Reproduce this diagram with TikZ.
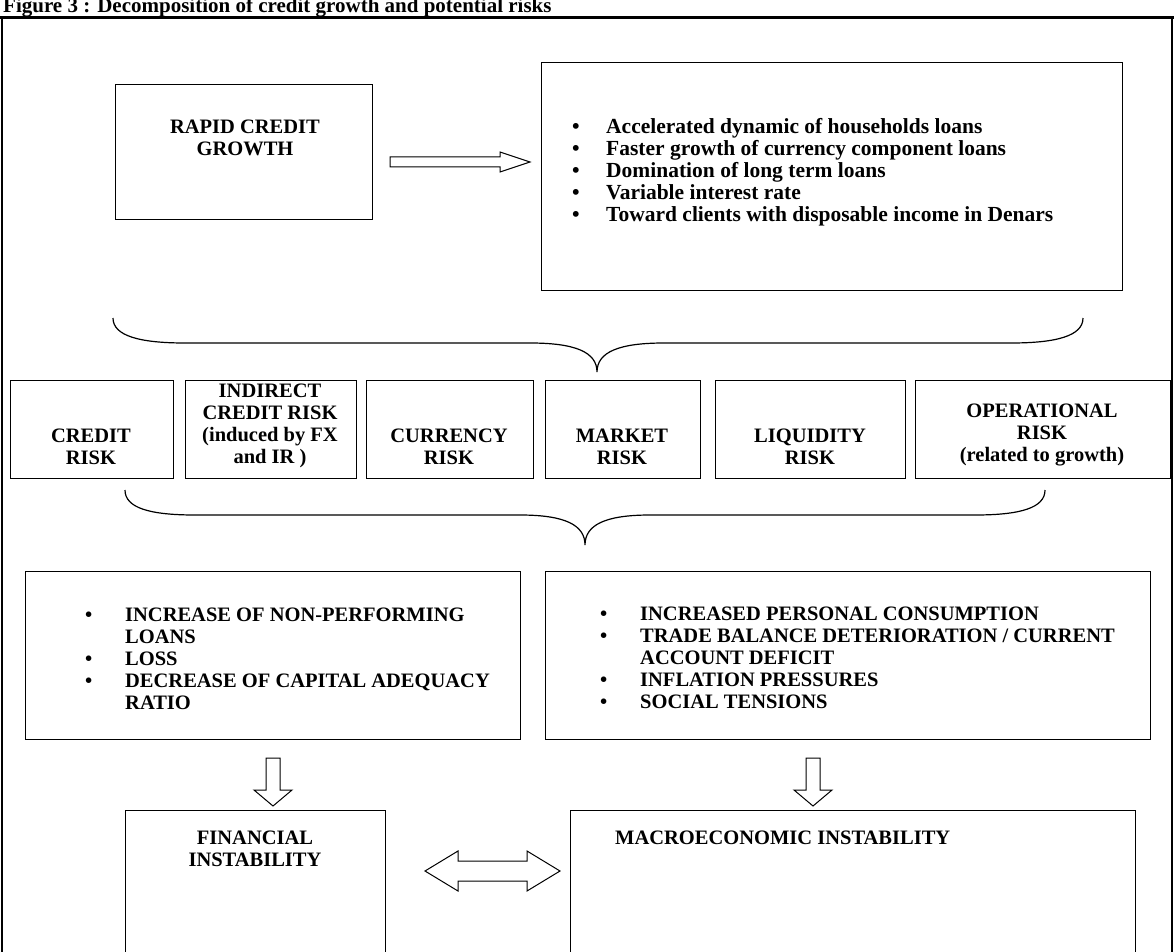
\documentclass[tikz,border=0pt]{standalone}
\usepackage{fontspec}
\setmainfont{Liberation Serif}
\begin{document}
\begin{tikzpicture}[x=1pt,y=-1pt,
  box/.style={draw,line width=1.4pt,anchor=north west,inner sep=0pt},
  txt/.style={font=\bfseries\fontsize{20.5}{22}\selectfont,align=center,inner sep=0pt},
  blist/.style={font=\bfseries\fontsize{20.5}{22}\selectfont,align=left,inner sep=0pt,anchor=north west},
  blk/.style={draw,line width=1pt,fill=white,line join=miter},
  brace/.style={draw,line width=1.2pt}]
\useasboundingbox (0,0) rectangle (1174,952);
% title and frame
\node[font=\bfseries\fontsize{21}{22}\selectfont,anchor=base west,inner sep=0pt] (title) at (3,13) {Figure 3 : Decomposition of credit growth and potential risks};
\draw[line width=3pt] (0,18) -- (1174,18);
\draw[line width=1.5pt] (2,18) -- (2,952);
\draw[line width=1.5pt] (1172,18) -- (1172,952);
% top
\node[box,minimum width=257pt,minimum height=135pt] (rapid) at (115,84) {};
\node[txt] (rapidtxt) at (245,138) {RAPID CREDIT\\GROWTH};
\node[box,minimum width=581pt,minimum height=228pt] (feat) at (541,62) {};
\node[blist,font=\bfseries\fontsize{21.5}{22}\selectfont] (featlist) at (572,118) {\makebox[34pt][l]{\textbullet}Accelerated dynamic of households loans\\
\makebox[34pt][l]{\textbullet}Faster growth of currency component loans\\
\makebox[34pt][l]{\textbullet}Domination of long term loans\\
\makebox[34pt][l]{\textbullet}Variable interest rate\\
\makebox[34pt][l]{\textbullet}Toward clients with disposable income in Denars};
\coordinate (a1) at (390,162);
\draw[blk] (a1) ++(0,-5) -- ++(110,0) -- ++(0,-5) -- ++(30,10) -- ++(-30,10) -- ++(0,-5) -- ++(-110,0) -- cycle;
% brace 1
\coordinate (b1l) at (113,318);
\coordinate (b1t) at (597,372);
\coordinate (b1r) at (1083,318);
\draw[brace] (b1l) .. controls (113,336) and (140,343) .. (185,343) -- (530,343)
  .. controls (575,343) and (597,352) .. (b1t)
  .. controls (597,352) and (619,343) .. (664,343) -- (1011,343)
  .. controls (1056,343) and (1083,336) .. (b1r);
% risk boxes
\node[box,minimum width=163pt,minimum height=98pt] (r1) at (10,380) {};
\node[box,minimum width=171pt,minimum height=98pt] (r2) at (185,380) {};
\node[box,minimum width=167pt,minimum height=98pt] (r3) at (366,380) {};
\node[box,minimum width=155pt,minimum height=98pt] (r4) at (545,380) {};
\node[box,minimum width=190pt,minimum height=98pt] (r5) at (715,380) {};
\node[box,minimum width=255pt,minimum height=98pt] (r6) at (915,380) {};
\node[txt] (r1t) at (91,447) {CREDIT\\RISK};
\node[txt] (r2t) at (270,426) {INDIRECT\\CREDIT RISK\\(induced by FX\\and IR )};
\node[txt] (r3t) at (449,447) {CURRENCY\\RISK};
\node[txt] (r4t) at (622,447) {MARKET\\RISK};
\node[txt] (r5t) at (810,447) {LIQUIDITY\\RISK};
\node[txt] (r6t) at (1042,435) {OPERATIONAL\\RISK\\(related to growth)};
% brace 2
\coordinate (b2l) at (125,490);
\coordinate (b2t) at (585,545);
\coordinate (b2r) at (1045,490);
\draw[brace] (b2l) .. controls (125,508) and (150,515) .. (195,515) -- (520,515)
  .. controls (565,515) and (585,525) .. (b2t)
  .. controls (585,525) and (605,515) .. (650,515) -- (975,515)
  .. controls (1020,515) and (1045,508) .. (b2r);
% consequence boxes
\node[box,minimum width=495pt,minimum height=168pt] (fin) at (25,571) {};
\node[blist] (finlist) at (85,608) {\makebox[40pt][l]{\textbullet}INCREASE OF NON-PERFORMING\\
\hspace*{40pt}LOANS\\
\makebox[40pt][l]{\textbullet}LOSS\\
\makebox[40pt][l]{\textbullet}DECREASE OF CAPITAL ADEQUACY\\
\hspace*{40pt}RATIO};
\node[box,minimum width=605pt,minimum height=168pt] (mac) at (545,571) {};
\node[blist] (maclist) at (600,607) {\makebox[40pt][l]{\textbullet}INCREASED PERSONAL CONSUMPTION\\
\makebox[40pt][l]{\textbullet}TRADE BALANCE DETERIORATION / CURRENT\\
\hspace*{40pt}ACCOUNT DEFICIT\\
\makebox[40pt][l]{\textbullet}INFLATION PRESSURES\\
\makebox[40pt][l]{\textbullet}SOCIAL TENSIONS};
% down arrows
\coordinate (d1) at (273,758);
\coordinate (d2) at (813,758);
\draw[blk] (d1) ++(-7,0) -- ++(14,0) -- ++(0,32) -- ++(12,0) -- ++(-19,16) -- ++(-19,-16) -- ++(12,0) -- cycle;
\draw[blk] (d2) ++(-7,0) -- ++(14,0) -- ++(0,32) -- ++(12,0) -- ++(-19,16) -- ++(-19,-16) -- ++(12,0) -- cycle;
% bottom boxes
\node[box,minimum width=260pt,minimum height=150pt] (finst) at (125,810) {};
\node[txt] (finsttxt) at (255,849) {FINANCIAL\\INSTABILITY};
\node[box,minimum width=565pt,minimum height=150pt] (minst) at (570,810) {};
\node[txt,anchor=west] (minsttxt) at (615,838) {MACROECONOMIC INSTABILITY};
% double arrow
\coordinate (da) at (425,871);
\draw[blk] (da) -- ++(33,-20) -- ++(0,10) -- ++(69,0) -- ++(0,-10) -- ++(33,20) -- ++(-33,20) -- ++(0,-10) -- ++(-69,0) -- ++(0,10) -- cycle;
\end{tikzpicture}
\end{document}
